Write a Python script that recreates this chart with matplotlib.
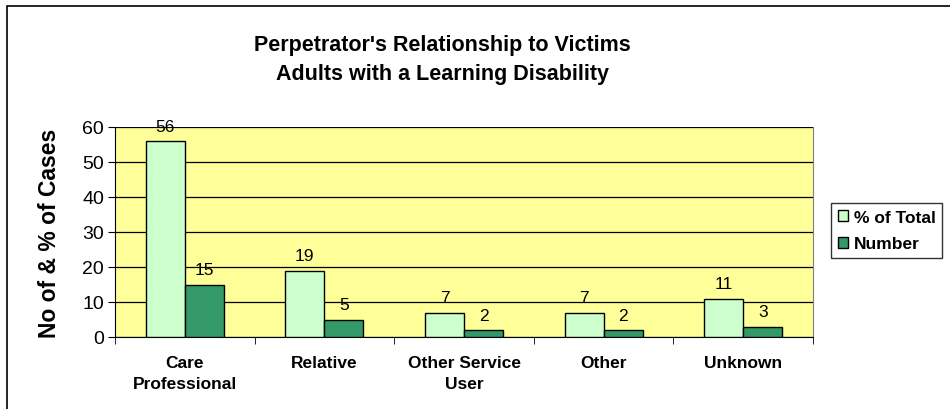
import matplotlib
matplotlib.use("Agg")
import matplotlib.pyplot as plt
import numpy as np
from matplotlib.patches import Rectangle

plt.rcParams['font.family'] = ['Liberation Sans', 'DejaVu Sans']

categories = ["Care\nProfessional", "Relative", "Other Service\nUser", "Other", "Unknown"]
pct_total = [56, 19, 7, 7, 11]
number = [15, 5, 2, 2, 3]
yticks = [0, 10, 20, 30, 40, 50, 60]

fig = plt.figure(figsize=(9.5, 4.1), dpi=100)
fig.patches.append(Rectangle((7/950, -0.1), 1.2, 1 - 7/410 + 0.1, transform=fig.transFigure,
                             fill=False, edgecolor='black', linewidth=1.2))

ax = fig.add_axes([115/950, 1 - 338/410, (813 - 115)/950, (338 - 128)/410])
ax.set_facecolor('#FFFF99')
x = np.arange(len(categories))
w = 0.28
b1 = ax.bar(x - w/2, pct_total, w, color='#CCFFCC', edgecolor='black', linewidth=1, label='% of Total', zorder=3)
b2 = ax.bar(x + w/2, number, w, color='#339966', edgecolor='black', linewidth=1, label='Number', zorder=3)
for rect, v in zip(b1, pct_total):
    ax.text(rect.get_x() + rect.get_width()/2, v + 2.0, str(v), ha='center', va='bottom', fontsize=12.5, zorder=4)
for rect, v in zip(b2, number):
    ax.text(rect.get_x() + rect.get_width()/2, v + 2.0, str(v), ha='center', va='bottom', fontsize=12.5, zorder=4)

ax.set_xlim(-0.5, len(categories) - 0.5)
ax.set_ylim(0, 60)
ax.set_yticks(yticks)
ax.set_yticklabels([str(t) for t in yticks], fontsize=14)
ax.yaxis.grid(True, color='black', linewidth=0.9, zorder=0)
ax.set_axisbelow(True)
ax.set_xticks(x)
ax.set_xticklabels(categories, fontsize=12.5, fontweight='bold', linespacing=1.5)
ax.tick_params(axis='x', length=0, pad=13)
ax.set_xticks(np.arange(-0.5, len(categories)), minor=True)
ax.tick_params(axis='x', which='minor', length=5, direction='out')
ax.tick_params(axis='y', length=5, direction='out', pad=3)
ax.spines['top'].set_visible(False)
ax.spines['right'].set_color('#808080')
ax.spines['left'].set_color('black')
ax.spines['bottom'].set_color('black')
ax.set_ylabel("No of & % of Cases", fontsize=16.5, fontweight='bold', labelpad=15)

fig.text(442/950, 1 - 45/410, "Perpetrator's Relationship to Victims", ha='center', va='center',
         fontsize=15.5, fontweight='bold')
fig.text(442/950, 1 - 75/410, "Adults with a Learning Disability", ha='center', va='center',
         fontsize=15.5, fontweight='bold')

leg = fig.legend(handles=[b1, b2], labels=['% of Total', 'Number'], loc='upper left',
                 bbox_to_anchor=(831/950, 1 - 204/410), frameon=True, fancybox=False,
                 edgecolor='black', prop={'weight': 'bold', 'size': 12.5},
                 handlelength=0.6, handleheight=0.6, handletextpad=0.3, borderpad=0.4,
                 labelspacing=0.65, borderaxespad=0)
leg.get_frame().set_linewidth(1)

fig.savefig("out.png", dpi=100)
